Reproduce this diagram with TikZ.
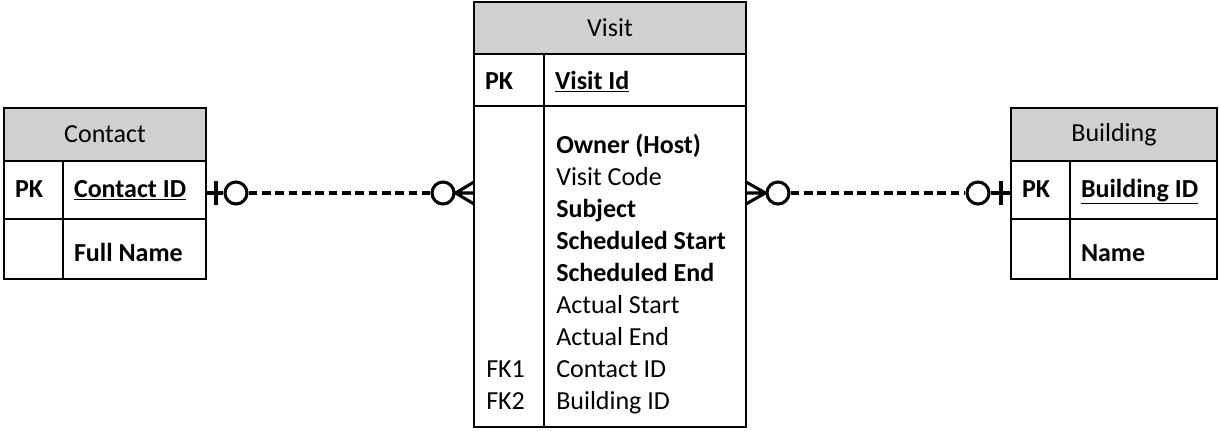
\documentclass[tikz,border=0pt]{standalone}
\usepackage{fontspec}
\setmainfont{Carlito}
\usepackage{tikz}
\usetikzlibrary{positioning}
\definecolor{headgray}{RGB}{208,208,208}
\tikzset{head cell/.style={draw,fill=headgray,line width=1.5pt,outer sep=0pt,inner sep=0pt,minimum height=39.75pt},}
\tikzset{cell/.style={draw,line width=1.5pt,outer sep=0pt,inner xsep=8.25pt,inner ysep=0pt,align=flush left,text height=14pt,text depth=3pt},}
\tikzset{low cell/.style={cell,text height=20pt,text depth=1pt},}
\tikzset{er circle/.style={circle,draw,fill=white,line width=2.3pt,minimum size=16.5pt,inner sep=0pt},}
\tikzset{er line/.style={line width=2.3pt},}
\tikzset{field/.style={anchor=base west,inner sep=0pt},}

\begin{document}
\begin{tikzpicture}[font=\fontsize{19.5pt}{24pt}\selectfont]
       \useasboundingbox (0,0) rectangle (914.25pt,-322.5pt);

       % Contact
       \node[head cell,minimum width=151.5pt,anchor=north west] (contact) at (3pt,-81pt) {Contact};
       \node[cell,text width=27.75pt,minimum height=43.5pt,below=0pt of contact.south west,anchor=north west] (cpk) {\textbf{PK}};
       \node[cell,text width=90.75pt,minimum height=43.5pt,right=0pt of cpk] (cid) {\textbf{\underline{Contact ID}}};
       \node[low cell,text width=27.75pt,minimum height=45pt,below=0pt of cpk] (cnk) {};
       \node[low cell,text width=90.75pt,minimum height=45pt,right=0pt of cnk] (cname) {\textbf{Full Name}};

       % Visit
       \node[head cell,minimum width=204pt,minimum height=39pt,anchor=north west] (visit) at (355.5pt,-1.5pt) {Visit};
       \node[cell,text height=16pt,text depth=2pt,text width=36pt,minimum height=39pt,below=0pt of visit.south west,anchor=north west] (vpk) {\textbf{PK}};
       \node[cell,text height=16pt,text depth=2pt,text width=135pt,minimum height=39pt,right=0pt of vpk] (vid) {\textbf{\underline{Visit Id}}};
       \node[cell,text width=36pt,minimum height=240.75pt,below=0pt of vpk] (vkeys) {};
       \node[cell,text width=135pt,minimum height=240.75pt,right=0pt of vkeys] (vbody) {};
       \foreach \f [count=\i from 0] in {{\textbf{Owner (Host)}},{Visit Code},{\textbf{Subject}},{\textbf{Scheduled Start}},{\textbf{Scheduled End}},{Actual Start},{Actual End},{Contact ID},{Building ID}}
         \node[field] (vf\i) at ([xshift=9pt,yshift=-35.5pt-\i*24pt]vbody.north west) {\f};
       \node[field,xshift=9pt] (fk1) at (vf7.base -| vkeys.west) {FK1};
       \node[field,xshift=9pt] (fk2) at (vf8.base -| vkeys.west) {FK2};

       % Building
       \node[head cell,minimum width=154.5pt,anchor=north west] (building) at (758.25pt,-81pt) {Building};
       \node[cell,text width=27.75pt,minimum height=43.5pt,below=0pt of building.south west,anchor=north west] (bpk) {\textbf{PK}};
       \node[cell,text width=93.75pt,minimum height=43.5pt,right=0pt of bpk] (bid) {\textbf{\underline{Building ID}}};
       \node[low cell,text width=27.75pt,minimum height=45pt,below=0pt of bpk] (bnk) {};
       \node[low cell,text width=93.75pt,minimum height=45pt,right=0pt of bnk] (bname) {\textbf{Name}};

       % relationships
       \coordinate (cend) at ([yshift=-2.25pt]cid.east);
       \coordinate (bend) at ([yshift=-2.25pt]bpk.west);
       \coordinate (vleft) at (cend -| vkeys.west);
       \coordinate (vright) at (bend -| vbody.east);

       \node[er circle] (c1) at ([xshift=22.5pt]cend) {};
       \node[er circle] (c2) at ([xshift=-23.25pt]vleft) {};
       \draw[er line] (cend) -- (c1);
       \draw[er line] ([xshift=7.5pt,yshift=9pt]cend) -- ([xshift=7.5pt,yshift=-9pt]cend);
       \draw[er line,dash pattern=on 6.5pt off 3.5pt] (c1) -- (c2);
       \draw[er line] (c2.east) -- ([yshift=8.25pt]vleft)
             (c2.east) -- (vleft)
             (c2.east) -- ([yshift=-8.25pt]vleft);

       \node[er circle] (c3) at ([xshift=24pt]vright) {};
       \node[er circle] (c4) at ([xshift=-24.75pt]bend) {};
       \draw[er line] (c3.west) -- ([yshift=8.25pt]vright)
             (c3.west) -- (vright)
             (c3.west) -- ([yshift=-8.25pt]vright);
       \draw[er line,dash pattern=on 6.5pt off 3.5pt] (c3) -- (c4);
       \draw[er line] (c4) -- (bend);
       \draw[er line] ([xshift=-7.5pt,yshift=9pt]bend) -- ([xshift=-7.5pt,yshift=-9pt]bend);
\end{tikzpicture}
\end{document}
